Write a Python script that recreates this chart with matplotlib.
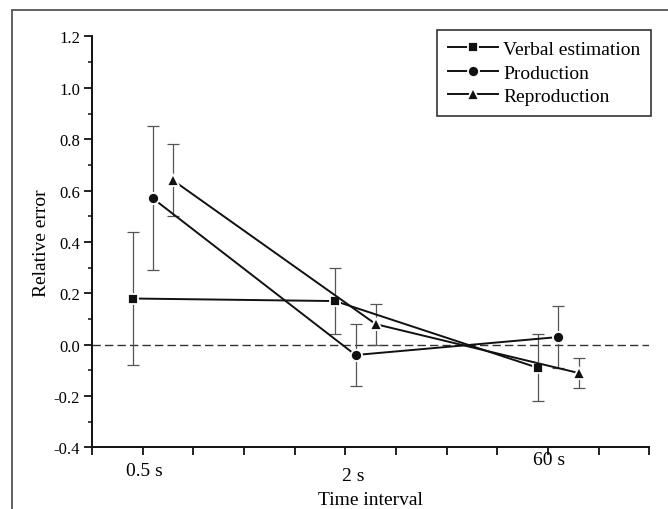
"""
Relative error of time estimation by method and interval.
"""
import matplotlib
matplotlib.use("Agg")
import matplotlib.pyplot as plt
from matplotlib.patches import Rectangle
from matplotlib.ticker import MultipleLocator

# data
intervals = ["0.5 s", "2 s", "60 s"]
series_names = ["Verbal estimation", "Production", "Reproduction"]
verbal = [0.18, 0.17, -0.09]
verbal_err = [0.26, 0.13, 0.13]
production = [0.57, -0.04, 0.03]
production_err = [0.28, 0.12, 0.12]
reproduction = [0.64, 0.08, -0.11]
reproduction_err = [0.14, 0.08, 0.06]

plt.rcParams["font.family"] = ["Liberation Serif", "DejaVu Serif"]
plt.rcParams["axes.unicode_minus"] = False

fig = plt.figure(figsize=(6.68, 5.10), dpi=100)
ax = fig.add_axes([0.1377, 0.1206, 0.8346, 0.8059])

# each interval sits at 0, 2, 4 on the axis; series spread inside the group
group_pos = [2 * i for i in range(len(intervals))]
offsets = [0.4, 0.6, 0.8]
markers = ["s", "o", "^"]
sizes = [7.4, 8.0, 8.6]
values = [verbal, production, reproduction]
errors = [verbal_err, production_err, reproduction_err]

for name, vals, errs, off, mk, ms in zip(series_names, values, errors, offsets, markers, sizes):
    xs = [g + off for g in group_pos]
    ax.errorbar(xs, vals, yerr=errs, fmt="none", ecolor="#555555",
                elinewidth=0.9, capsize=4, capthick=0.9, zorder=2)
    ax.plot(xs, vals, "-", color="#111111", lw=1.4, marker=mk, ms=ms,
            mfc="#111111", mec="white", mew=1.3, label=name, zorder=3)

ax.axhline(0, color="#333333", lw=1.0, ls=(0, (6, 3)), zorder=1)

ax.set_xlim(0, 5.5)
ax.set_ylim(-0.4, 1.2)
ax.xaxis.set_major_locator(MultipleLocator(0.5))
ax.set_xticklabels([])
ax.yaxis.set_major_locator(MultipleLocator(0.2))
ax.yaxis.set_minor_locator(MultipleLocator(0.1))
ax.yaxis.set_major_formatter(matplotlib.ticker.FormatStrFormatter("%.1f"))

for side in ["top", "right"]:
    ax.spines[side].set_visible(False)
for side in ["left", "bottom"]:
    ax.spines[side].set_linewidth(1.4)
    ax.spines[side].set_color("#111111")
ax.tick_params(which="major", direction="out", length=5.5, width=1.3,
               labelsize=12, color="#111111", pad=3)
ax.tick_params(which="minor", direction="out", length=3, width=1.1, color="#111111")

# interval names are placed by hand under the axis, as in the original
label_x = [0.52, 2.58, 4.51]
label_y = [-0.056, -0.069, -0.030]
tr = matplotlib.transforms.blended_transform_factory(ax.transData, ax.transAxes)
for txt, lx, ly in zip(intervals, label_x, label_y):
    ax.text(lx, ly, txt, transform=tr, ha="center", va="center", fontsize=14)

ax.set_xlabel("Time interval", fontsize=14)
ax.xaxis.set_label_coords(0.5, -0.105)
ax.set_ylabel("Relative error", fontsize=14)
ax.yaxis.set_label_coords(-0.076, 0.5)

leg = ax.legend(loc="upper right", bbox_to_anchor=(1.003, 1.016), borderaxespad=0,
                fontsize=14, handlelength=2.6, handletextpad=0.25, labelspacing=0.3,
                borderpad=0.55, fancybox=False, framealpha=1)
leg.get_frame().set_edgecolor("#333333")
leg.get_frame().set_linewidth(1.2)

# outer frame of the original figure, cut off at right and bottom
fig.add_artist(Rectangle((12 / 668, -0.1), 1.1, 0.9784 + 0.1, transform=fig.transFigure,
                         fill=False, ec="#555555", lw=1.3, clip_on=False))

fig.savefig("out.png", dpi=100)
